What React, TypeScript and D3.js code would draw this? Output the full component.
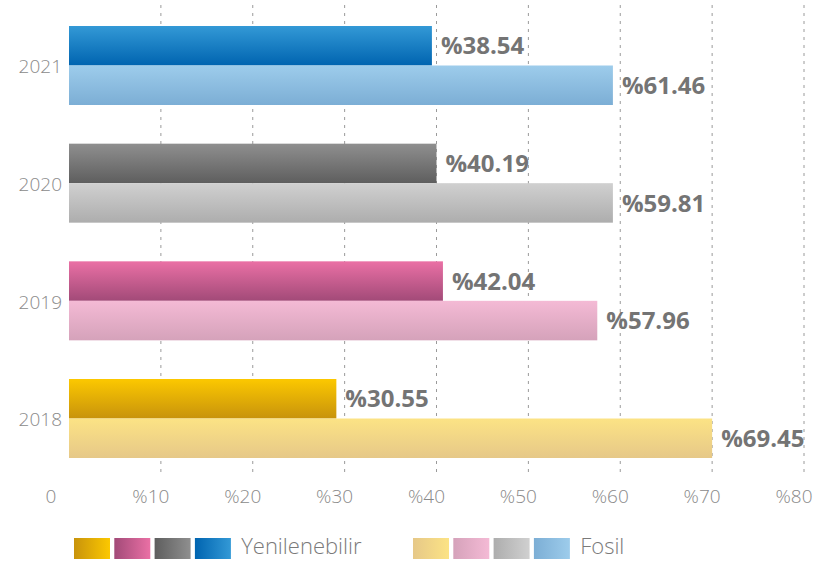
import React from "react";
import * as d3 from "d3";

const years = ["2021", "2020", "2019", "2018"];
// bar lengths as drawn in the picture (percent)
const renewable = [39.5, 40.0, 40.7, 29.1];
const fossil = [59.2, 59.2, 57.5, 70.0];
// printed labels
const renewableLabels = ["%38.54", "%40.19", "%42.04", "%30.55"];
const fossilLabels = ["%61.46", "%59.81", "%57.96", "%69.45"];
const ticks = [0, 10, 20, 30, 40, 50, 60, 70, 80];
const tickLabels = ["0", "%10", "%20", "%30", "%40", "%50", "%60", "%70", "%80"];
const legendNames = ["Yenilenebilir", "Fosil"];
const legendOrder = ["2018", "2019", "2020", "2021"];

// [top, bottom] colours
const darkColors: Record<string, [string, string]> = {
  "2018": ["#fcc800", "#c8930c"],
  "2019": ["#ea70a5", "#a24a78"],
  "2020": ["#8f8f8f", "#5e5e5e"],
  "2021": ["#3399d6", "#0064b0"],
};
const lightColors: Record<string, [string, string]> = {
  "2018": ["#fce385", "#e6c888"],
  "2019": ["#f4bad5", "#d5a2ba"],
  "2020": ["#d0d0d0", "#adadad"],
  "2021": ["#9dcceb", "#7caed5"],
};

const W = 816;
const H = 561;
const FONT = "'Open Sans', 'Noto Sans', sans-serif";

export default function App() {
  const x = d3.scaleLinear().domain([0, 80]).range([69, 804]);
  const y = d3.scaleBand<string>().domain(years).range([26, 458]).paddingInner(0.3286).paddingOuter(0);
  const bh = y.bandwidth() / 2;

  const legendX = d3.scaleLinear().domain([0, 1]).range([74, 413]);
  const swW = 36;
  const swStep = 40.3;

  return (
    <svg width={W} height={H} style={{ position: "absolute", left: 0, top: 0, background: "#fff" }}>
      <defs>
        {years.map((yr) => (
          <React.Fragment key={yr}>
            <linearGradient id={`d${yr}`} x1="0" y1="0" x2="0" y2="1">
              <stop offset="0" stopColor={darkColors[yr][0]} />
              <stop offset="1" stopColor={darkColors[yr][1]} />
            </linearGradient>
            <linearGradient id={`l${yr}`} x1="0" y1="0" x2="0" y2="1">
              <stop offset="0" stopColor={lightColors[yr][0]} />
              <stop offset="1" stopColor={lightColors[yr][1]} />
            </linearGradient>
            <linearGradient id={`hd${yr}`} x1="0" y1="0" x2="1" y2="0">
              <stop offset="0" stopColor={darkColors[yr][1]} />
              <stop offset="1" stopColor={darkColors[yr][0]} />
            </linearGradient>
            <linearGradient id={`hl${yr}`} x1="0" y1="0" x2="1" y2="0">
              <stop offset="0" stopColor={lightColors[yr][1]} />
              <stop offset="1" stopColor={lightColors[yr][0]} />
            </linearGradient>
          </React.Fragment>
        ))}
      </defs>

      {/* grid lines */}
      {ticks.slice(1).map((t) => (
        <line
          key={t}
          x1={x(t)}
          x2={x(t)}
          y1={5}
          y2={477}
          stroke="#9a9a9a"
          strokeWidth={1}
          strokeDasharray="3,5"
        />
      ))}

      {/* bars */}
      {years.map((yr, i) => {
        const y0 = y(yr)!;
        return (
          <g key={yr}>
            <rect x={x(0)} y={y0} width={x(renewable[i]) - x(0)} height={bh} fill={`url(#d${yr})`} />
            <rect x={x(0)} y={y0 + bh} width={x(fossil[i]) - x(0)} height={bh} fill={`url(#l${yr})`} />
            <text
              x={x(renewable[i]) + 9}
              y={y0 + bh / 2}
              dy="0.36em"
              fontFamily={FONT}
              fontWeight={700}
              fontSize={24}
              fill="#747474"
            >
              {renewableLabels[i]}
            </text>
            <text
              x={x(fossil[i]) + 9}
              y={y0 + bh * 1.5}
              dy="0.36em"
              fontFamily={FONT}
              fontWeight={700}
              fontSize={24}
              fill="#747474"
            >
              {fossilLabels[i]}
            </text>
            <text
              x={62}
              y={y0 + bh + 1}
              dy="0.36em"
              textAnchor="end"
              fontFamily={FONT}
              fontWeight={300}
              fontSize={19}
              fill="#8a8a8a"
            >
              {yr}
            </text>
          </g>
        );
      })}

      {/* x tick labels */}
      {ticks.map((t, i) => (
        <text
          key={t}
          x={x(t) + (t === 0 ? -18 : -10)}
          y={496}
          dy="0.36em"
          textAnchor="middle"
          fontFamily={FONT}
          fontWeight={300}
          fontSize={19}
          fill="#8a8a8a"
        >
          {tickLabels[i]}
        </text>
      ))}

      {/* legend */}
      {legendNames.map((name, gi) => {
        const gx = legendX(gi);
        return (
          <g key={name}>
            {legendOrder.map((yr, k) => (
              <rect
                key={yr}
                x={gx + k * swStep}
                y={538}
                width={swW}
                height={21}
                fill={gi === 0 ? `url(#hd${yr})` : `url(#hl${yr})`}
              />
            ))}
            <text
              x={gx + 4 * swStep + 6}
              y={554}
              fontFamily={FONT}
              fontWeight={300}
              fontSize={22}
              fill="#7a7a7a"
            >
              {name}
            </text>
          </g>
        );
      })}
    </svg>
  );
}
